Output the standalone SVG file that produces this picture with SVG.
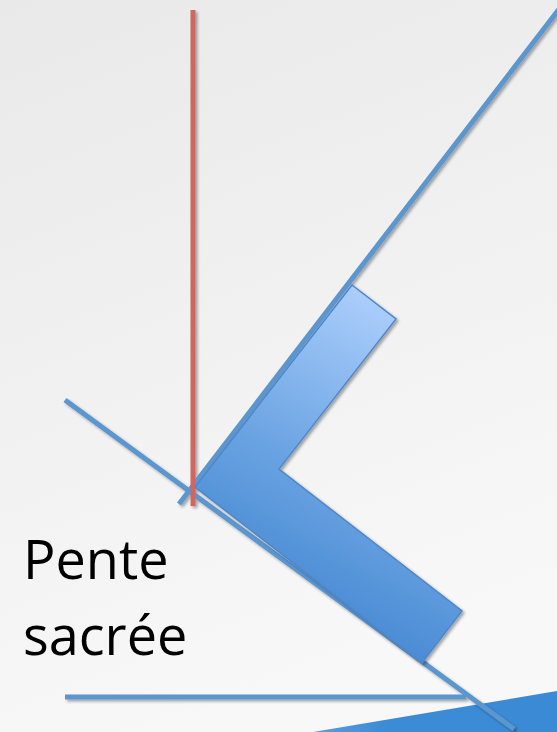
<svg xmlns="http://www.w3.org/2000/svg" width="557" height="732" viewBox="0 0 557 732">
<defs>
<linearGradient id="bg" x1="0" y1="0" x2="0.3" y2="1">
<stop offset="0" stop-color="#e9e9e9"/>
<stop offset="1" stop-color="#f8f8f8"/>
</linearGradient>
<linearGradient id="chev" x1="374" y1="302" x2="230" y2="560" gradientUnits="userSpaceOnUse">
<stop offset="0" stop-color="#aacdfb"/>
<stop offset="0.6" stop-color="#6aa3e2"/>
<stop offset="1" stop-color="#4a8bd4"/>
</linearGradient>
<linearGradient id="basegr" x1="313" y1="0" x2="557" y2="0" gradientUnits="userSpaceOnUse">
<stop offset="0" stop-color="#5b9ee0"/>
<stop offset="0.3" stop-color="#3b8bd6"/>
<stop offset="1" stop-color="#3a8ad6"/>
</linearGradient>
<filter id="sh" x="-10%" y="-10%" width="120%" height="120%">
<feGaussianBlur in="SourceAlpha" stdDeviation="1.5"/>
<feOffset dx="2" dy="2"/>
<feComponentTransfer><feFuncA type="linear" slope="0.35"/></feComponentTransfer>
<feMerge><feMergeNode/><feMergeNode in="SourceGraphic"/></feMerge>
</filter>
</defs>
<style>
.bl{stroke:#5b96cf;stroke-width:5;fill:none}
.rd{stroke:#d0665f;stroke-width:5;fill:none}
.lbl{font-family:"Open Sans","Noto Sans",sans-serif;font-size:54px;fill:#000}
</style>
<rect width="557" height="732" fill="url(#bg)"/>
<g id="base">
<polygon points="313,732 557,691 557,732" fill="url(#basegr)"/>
</g>
<g id="connectors" filter="url(#sh)">
<line id="sacral-line" class="bl" x1="65" y1="400" x2="514" y2="729"/>
<line id="oblique-line" class="bl" x1="566" y1="0" x2="179" y2="504"/>
<line id="horizontal" class="bl" x1="65" y1="697" x2="466" y2="697"/>
<line id="vertical" class="rd" x1="193" y1="10" x2="193" y2="506"/>
</g>
<g id="chevron" filter="url(#sh)">
<polygon points="352,285 396,319 279,469 462,611 422,663 195,487" fill="url(#chev)" stroke="#4f87c8" stroke-width="1.5" stroke-linejoin="miter"/>
</g>
<g id="label">
<text class="lbl" x="23" y="579">Pente</text>
<text class="lbl" x="23" y="655">sacrée</text>
</g>
</svg>
